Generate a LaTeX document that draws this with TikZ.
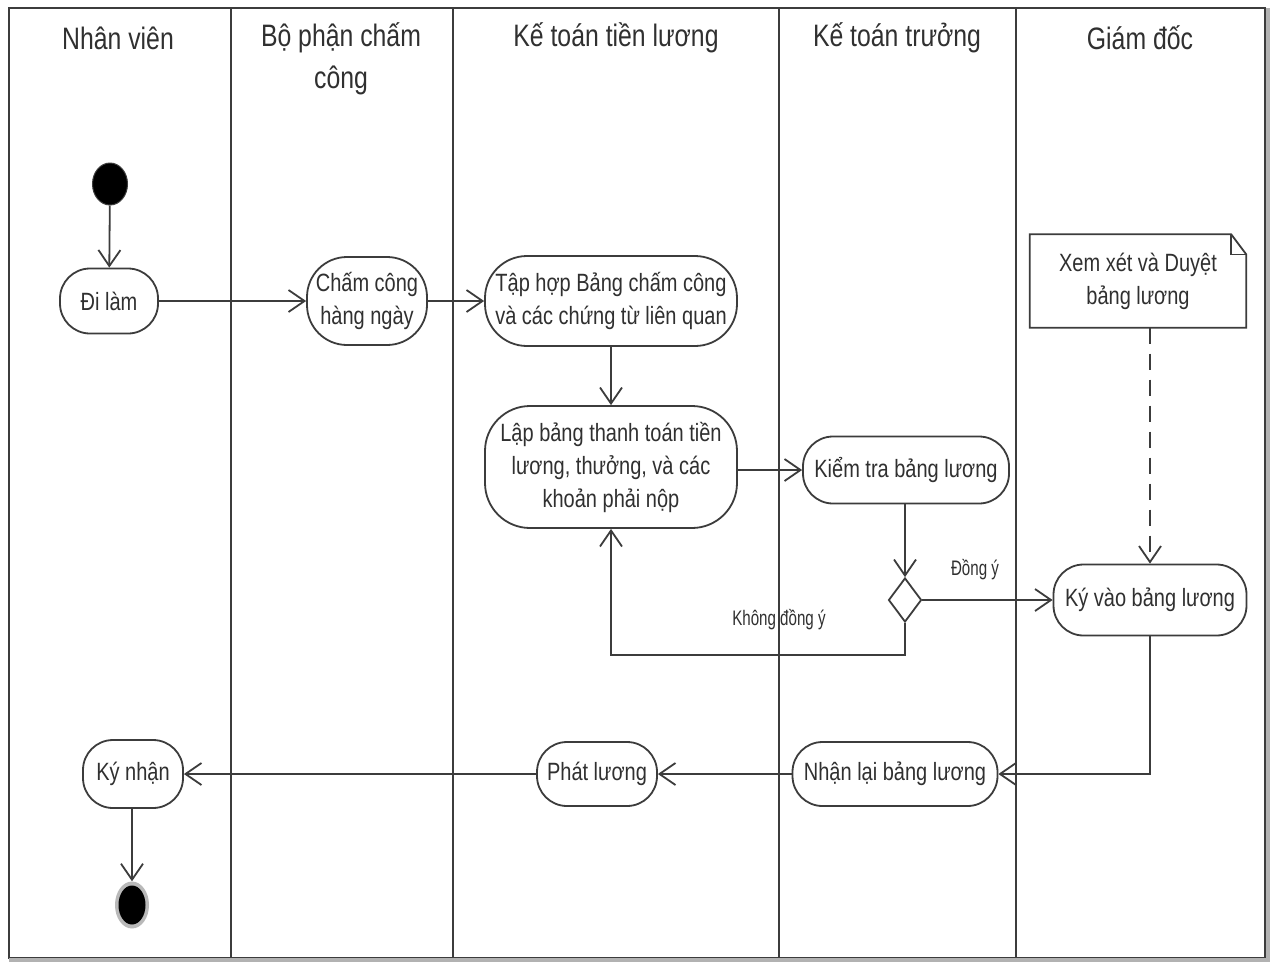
\documentclass[tikz,border=0pt]{standalone}
\usepackage{fontspec}
\setmainfont{Liberation Sans}[FakeStretch=0.8]
\newfontfamily\lblfont{Liberation Sans}[FakeStretch=0.72]
\usetikzlibrary{arrows.meta,shapes.geometric}
\definecolor{ink}{HTML}{3C3C3C}
\definecolor{txt}{HTML}{303030}
\begin{document}
\begin{tikzpicture}[x=1pt,y=-1pt,
  lane/.style={draw=ink, line width=2pt},
  act/.style={draw=ink, line width=1.8pt, rounded corners=#1, align=center, inner sep=0pt, font=\fontsize{25}{33}\selectfont, text=txt},
  act/.default=30pt,
  flow/.style={draw=ink, line width=1.8pt, -{Straight Barb[length=16pt,width=22pt,line width=1.8pt]}},
  title/.style={font=\fontsize{31}{42}\selectfont, text=txt, align=center},
  lbl/.style={font=\lblfont\fontsize{21}{24}\selectfont, text=txt},
]
\useasboundingbox (0,0) rectangle (1272,962);
\fill[white] (0,0) rectangle (1272,962);
% frame and lanes
\draw[lane] (9,8) rectangle (1265,958);
\draw[gray!60, line width=4pt] (1268,8) -- (1268,960) -- (9,960);
\draw[lane] (231,8) -- (231,958);
\draw[lane] (453,8) -- (453,958);
\draw[lane] (779,8) -- (779,958);
\draw[lane] (1016,8) -- (1016,958);
% titles
\node[title] (t1) at (118,38) {Nhân viên};
\node[title] (t2) at (341,59) {Bộ phận chấm\\công};
\node[title] (t3) at (616,38) {Kế toán tiền lương};
\node[title] (t4) at (897,38) {Kế toán trưởng};
\node[title] (t5) at (1140,38) {Giám đốc};
% nodes
\node[ellipse, fill=black, draw=ink, line width=1pt, minimum width=35pt, minimum height=42pt, inner sep=0pt] (start) at (110,184) {};
\node[act, minimum width=98pt, minimum height=65pt] (dilam) at (109,301) {Đi làm};
\node[act=40pt, minimum width=120pt, minimum height=88pt] (chamcong) at (367,301) {Chấm công\\hàng ngày};
\node[act=42pt, minimum width=252pt, minimum height=90pt] (taphop) at (611,301) {Tập hợp Bảng chấm công\\và các chứng từ liên quan};
\node[act=45pt, minimum width=252pt, minimum height=122pt] (lapbang) at (611,467) {Lập bảng thanh toán tiền\\lương, thưởng, và các\\khoản phải nộp};
\node[act, minimum width=206pt, minimum height=67pt] (kiemtra) at (906,470) {Kiểm tra bảng lương};
\node[diamond, draw=ink, line width=1.8pt, minimum width=33pt, minimum height=44pt, inner sep=0pt] (dec) at (905,600) {};
\node[act, minimum width=193pt, minimum height=71pt] (kyvao) at (1150,600) {Ký vào bảng lương};
\node[minimum width=216pt, minimum height=93pt, inner sep=0pt, align=center, font=\fontsize{25}{33}\selectfont, text=txt] (note) at (1138,281) {Xem xét và Duyệt\\bảng lương};
\draw[draw=ink, line width=1.8pt] (note.south west) -- (note.north west) -- ([xshift=-15pt]note.north east) -- ([yshift=-20pt]note.north east) -- (note.south east) -- cycle;
\draw[draw=ink, line width=1.5pt] ([xshift=-15pt]note.north east) -- ([xshift=-15pt,yshift=-20pt]note.north east) -- ([yshift=-20pt]note.north east);
\node[act, minimum width=205pt, minimum height=64pt] (nhanlai) at (895,774) {Nhận lại bảng lương};
\node[act, minimum width=120pt, minimum height=64pt] (phatluong) at (597,774) {Phát lương};
\node[act, minimum width=100pt, minimum height=68pt] (kynhan) at (133,774) {Ký nhận};
\node[ellipse, fill=gray!55, minimum width=34pt, minimum height=47pt, inner sep=0pt] (final) at (132,905) {};
\node[ellipse, fill=black, minimum width=27pt, minimum height=39pt, inner sep=0pt] (finalin) at (132,905) {};
% labels
\node[lbl] (ldongy) at (975,570) {Đồng ý};
\node[lbl] (lkhong) at (779,620) {Không đồng ý};
% connectors
\draw[flow] (start) -- (dilam);
\draw[flow] (dilam) -- (chamcong);
\draw[flow] (chamcong) -- (taphop);
\draw[flow] (taphop) -- (lapbang);
\draw[flow] (lapbang.east |- kiemtra) -- (kiemtra);
\draw[flow] (kiemtra.south -| dec) -- (dec.north);
\draw[flow] (dec) -- (kyvao);
\draw[flow] (dec.south) -- (905,655) -- (lapbang.south |- 0,655) -- (lapbang.south);
\draw[flow, dashed, dash pattern=on 16pt off 10pt] (note.south -| kyvao) -- (kyvao.north);
\draw[flow] (kyvao.south) -- (kyvao.south |- nhanlai) -- (nhanlai);
\draw[flow] (nhanlai) -- (phatluong);
\draw[flow] (phatluong) -- (kynhan);
\draw[flow] (kynhan.south -| final) -- (final.north);
\end{tikzpicture}
\end{document}
